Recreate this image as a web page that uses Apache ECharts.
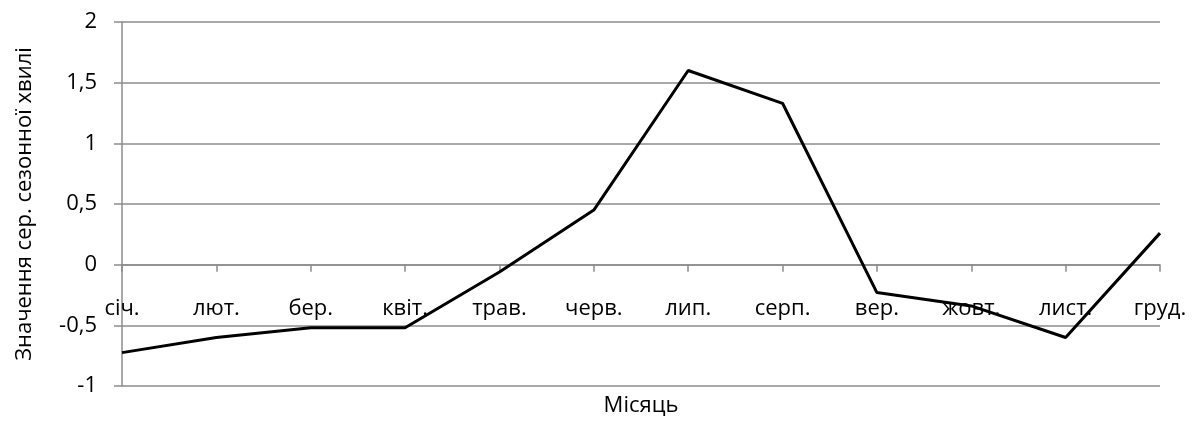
<!DOCTYPE html>
<html>
<head>
<meta charset="utf-8">
<script src="https://cdn.jsdelivr.net/npm/echarts@6/dist/echarts.min.js"></script>
<style>
html,body{margin:0;padding:0;background:#fff;}
#chart{width:1195px;height:421px;}
</style>
</head>
<body>
<div id="chart"></div>
<script>
const months = ['січ.', 'лют.', 'бер.', 'квіт.', 'трав.', 'черв.', 'лип.', 'серп.', 'вер.', 'жовт.', 'лист.', 'груд.'];
const seasonalWave = [-0.725, -0.60, -0.52, -0.52, -0.06, 0.45, 1.60, 1.33, -0.23, -0.34, -0.60, 0.26];
const yTicks = [-1, -0.5, 0, 0.5, 1, 1.5, 2];
const xAxisTitle = 'Місяць';
const yAxisTitle = 'Значення сер. сезонної хвилі';

const FONT = '"Open Sans", Lato, sans-serif';
const FS = 22;
const GRAY = '#8c8c8c';

const chart = echarts.init(document.getElementById('chart'));
const option = {
  animation: false,
  backgroundColor: '#fff',
  grid: { left: 122, right: 35, top: 22, bottom: 35, containLabel: false, outerBoundsMode: 'none' },
  xAxis: {
    type: 'category',
    data: months,
    boundaryGap: false,
    offset: 0,
    name: xAxisTitle,
    nameLocation: 'middle',
    nameGap: 130,
    nameTextStyle: { fontFamily: FONT, fontSize: FS, color: '#000' },
    axisLine: { onZero: false, lineStyle: { color: GRAY, width: 1.5 } },
    axisTick: { show: true, inside: false, length: 7, lineStyle: { color: GRAY, width: 1.5 } },
    axisLabel: { fontFamily: FONT, fontSize: FS, color: '#000', margin: 33, interval: 0 },
    splitLine: { show: false }
  },
  yAxis: {
    type: 'value',
    min: yTicks[0],
    max: yTicks[yTicks.length - 1],
    interval: 0.5,
    name: yAxisTitle,
    nameLocation: 'middle',
    nameGap: 86,
    nameRotate: 90,
    nameTextStyle: { fontFamily: FONT, fontSize: FS, color: '#000' },
    axisLine: { show: true, lineStyle: { color: GRAY, width: 1.5 } },
    axisTick: { show: true, inside: false, length: 8, lineStyle: { color: GRAY, width: 1.5 } },
    axisLabel: {
      fontFamily: FONT, fontSize: FS, color: '#000', margin: 25,
      formatter: v => String(v).replace('.', ',')
    },
    splitLine: { show: true, lineStyle: { color: GRAY, width: 1.5 } }
  },
  series: [{
    type: 'line',
    data: seasonalWave,
    symbol: 'none',
    lineStyle: { color: '#000', width: 3 },
    itemStyle: { color: '#000' }
  }]
};
chart.setOption(option);
// Move the category axis (line, ticks, labels, name) up to the y = 0 level, as in the reference.
const yBottom = chart.convertToPixel({ yAxisIndex: 0 }, yTicks[0]);
const yZero = chart.convertToPixel({ yAxisIndex: 0 }, 0);
chart.setOption({ xAxis: { offset: -(yBottom - yZero) } });
</script>
</body>
</html>
